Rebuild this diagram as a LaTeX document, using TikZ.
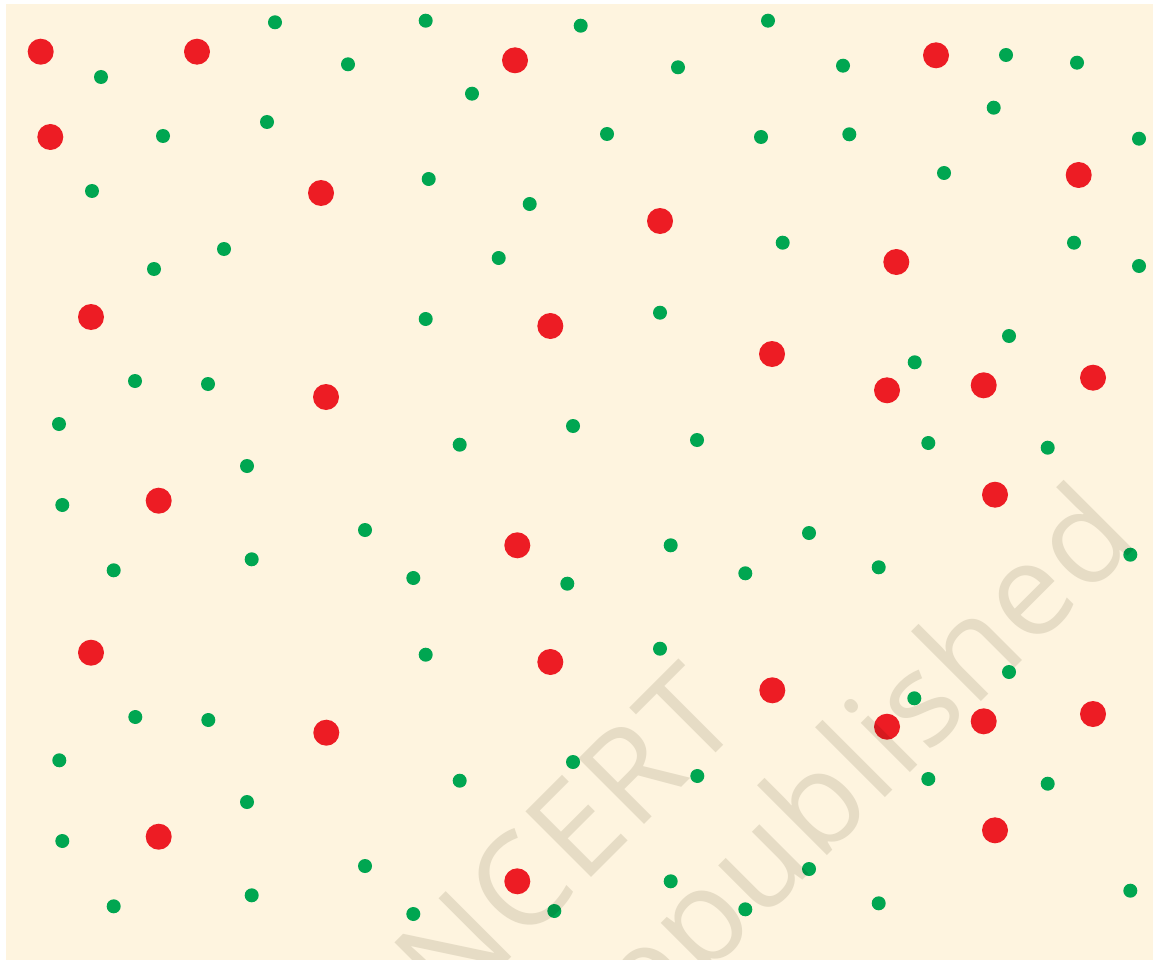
\documentclass[tikz,border=0pt]{standalone}
\usepackage{fontspec}
\newfontfamily\wmfont[LetterSpace=2]{Open Sans}
\definecolor{cream}{HTML}{FEF4DF}
\definecolor{dotred}{HTML}{ED1C24}
\definecolor{dotgreen}{HTML}{00A651}
\definecolor{wmark}{HTML}{E7E6E2}
\tikzset{
  reddot/.style={fill=dotred},
  greendot/.style={fill=dotgreen},
  wmtext/.style={text=wmark, inner sep=0pt, rotate=45, font=\wmfont\fontsize{130}{130}\selectfont}
}
\begin{document}
\begin{tikzpicture}[x=1pt,y=-1pt]
\useasboundingbox (0,0) rectangle (1153,960);
\fill[cream] (6,4) rectangle (1153,960);
\begin{scope}
\clip (6,4) rectangle (1153,960);
% red dots
\foreach \x/\y in {
  40.7/51.7, 197/51.7, 515/60.3, 936/55.3,
  50.3/137, 321/193, 660/221, 1078.7/175, 896.3/262,
  91/317, 550.3/326, 772/354, 887/390.3, 983.7/385.3, 1093/377.7, 326/397,
  158.7/500.7, 995/494.7, 517.3/545.3,
  91/652.7, 550.3/662, 772.3/690.3, 887/726.7, 983.7/721.3, 1093/714, 326.3/732.7,
  158.7/836.7, 995/830.3, 517.3/881.3}
  \fill[reddot] (\x,\y) circle[radius=13];
% green dots
\foreach \x/\y in {
  275/22.3, 425.7/20.7, 580.7/25.7, 768/20.7,
  101/77, 348/64.3, 678/67.3, 843/65.7, 1006/55, 1077/62.7,
  472/93.7, 993.7/107.7,
  163/136, 267/122, 607/134, 761/137, 849.3/134.3, 1139/138.7,
  92/191, 428.7/179, 944/173, 529.7/204,
  224/249, 154/269, 498.7/258, 782.7/242.7, 1074/242.7, 1139/266,
  425.7/319, 660/312.7, 1009/336, 914.7/362.3,
  135/381, 208/384,
  59/424, 459.7/444.7, 573/426, 697/440, 928.3/443, 1047.7/447.7,
  247/466, 62.3/505,
  365/530, 809/533,
  113.7/570.3, 251.7/559.3, 413.3/578, 567.3/583.7, 670.7/545.3, 745.3/573.3, 878.7/567.3, 1130.3/554.7,
  425.7/654.7, 660/648.7, 1009/672, 914.3/698.3,
  135.3/717, 208.3/720,
  59.3/760.3, 459.7/780.7, 573/762, 697.3/776, 928.3/779, 1047.7/783.7,
  247/802, 62.3/841,
  365/866, 809/869,
  113.7/906.3, 251.7/895.3, 413.3/914, 554.3/911, 670.7/881.3, 745.3/909.3, 878.7/903.3, 1130.3/890.7}
  \fill[greendot] (\x,\y) circle[radius=7];
% watermark
\begin{scope}[blend mode=multiply]
\node[wmtext, anchor=base east] (ncert) at (745.5,723.7) {NCERT};
\node[wmtext, anchor=base east] (repub) at (1141.5,541.5) {republished};
\end{scope}
\end{scope}
\end{tikzpicture}
\end{document}
